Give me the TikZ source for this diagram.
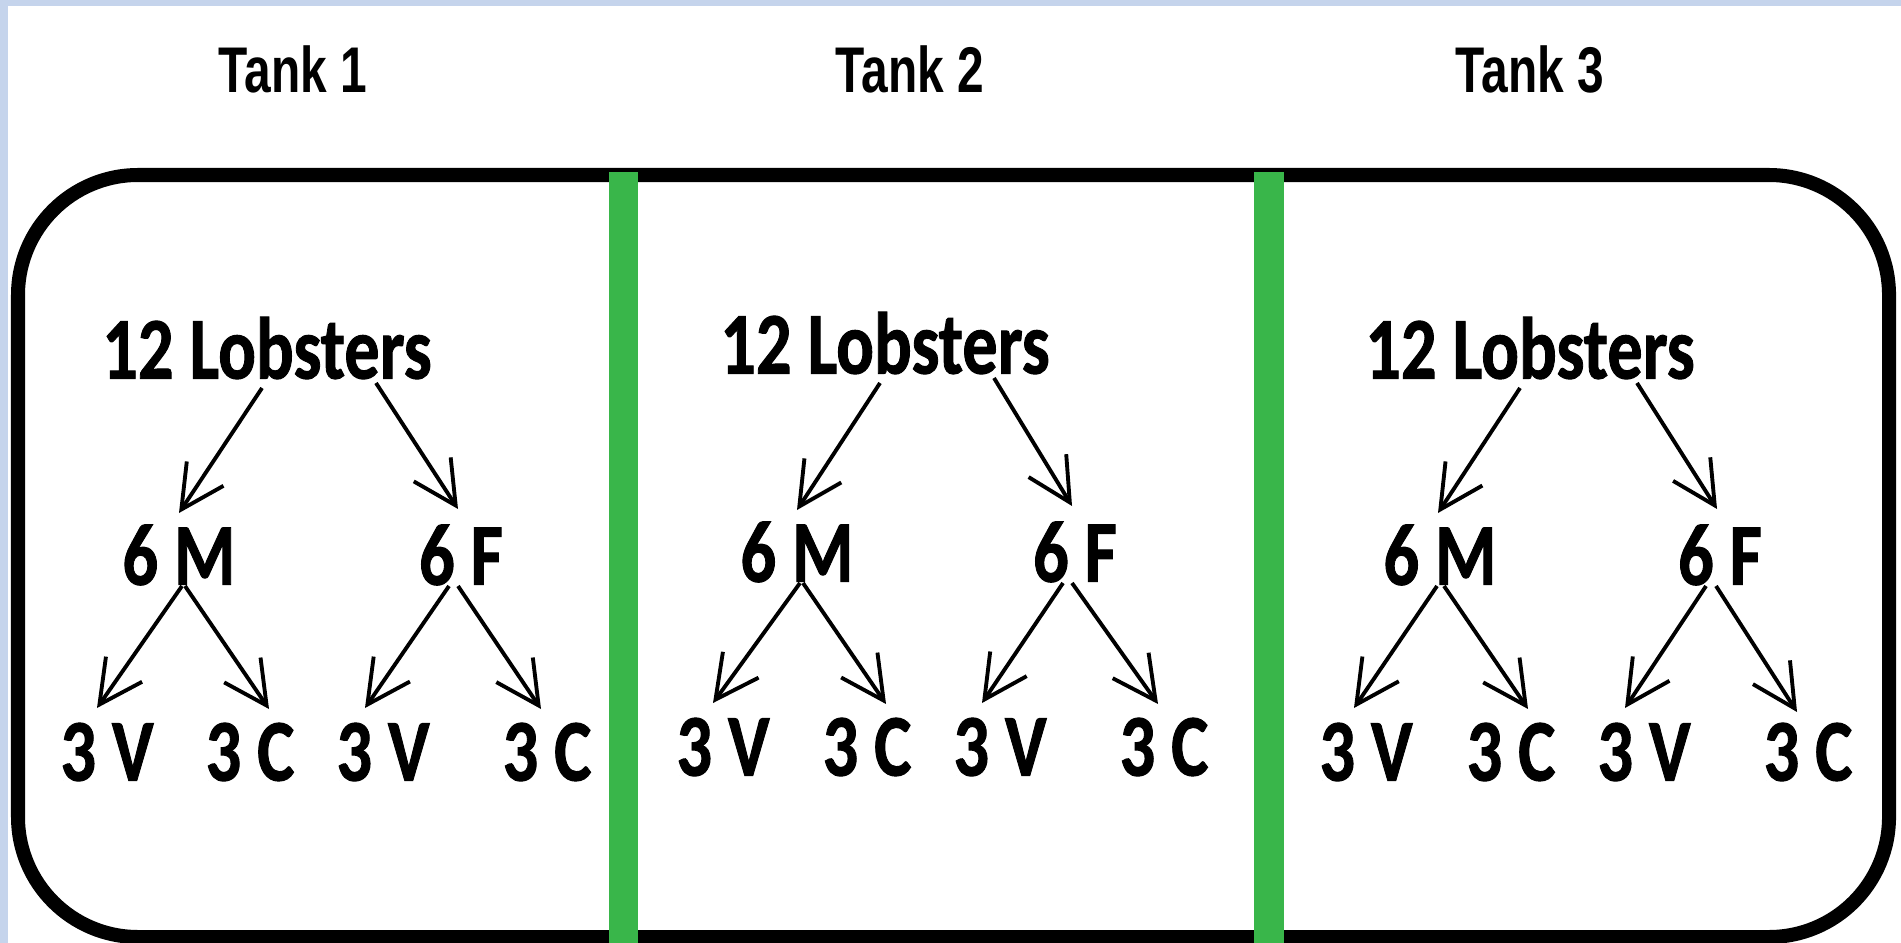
\documentclass[tikz,border=0pt]{standalone}
\usepackage{fontspec}
\setmainfont{Carlito}[BoldFeatures={FakeBold=1.2}]
\newfontfamily\tankfont{Liberation Sans}
\usetikzlibrary{arrows.meta,calc}
\definecolor{stripblue}{RGB}{197,212,236}
\definecolor{wallgreen}{RGB}{57,182,74}
\tikzstyle{arrow} = [line width=1.1pt,-{Straight Barb[length=4.3mm,width=4.4mm]}]
\tikzstyle{count} = [inner sep=0pt, font=\fontsize{20}{24}\selectfont\bfseries, yscale=1.25]
\tikzstyle{tank} = [inner sep=0pt, font=\tankfont\fontsize{16.4}{19}\selectfont\bfseries, xscale=0.83, yscale=1.12]

\begin{document}
\begin{tikzpicture}[x=0.01cm,y=-0.01cm]
\useasboundingbox (0,0) rectangle (1901,943);
\fill [stripblue] (0,0) rectangle (1901,6);
\fill [stripblue] (0,0) rectangle (8,943);
\draw [line width=0.14cm, rounded corners=1.2cm] (18,175) rectangle (1889,937);
\fill [wallgreen] (609,172) rectangle (638,943);
\fill [wallgreen] (1254,172) rectangle (1284,943);
\node (t1) [tank] at (293,69) {Tank 1};
\node (t2) [tank] at (910,69) {Tank 2};
\node (t3) [tank] at (1530,69) {Tank 3};
% tank 1
\node (lob1) [count] at (267,348) {12 Lobsters};
\node (m1) [count] at (179,555) {6 M};
\node (f1) [count] at (461,555) {6 F};
\node (v1a) [count] at (107,752) {3 V};
\node (c1a) [count] at (250,752) {3 C};
\node (v1b) [count] at (383,752) {3 V};
\node (c1b) [count] at (547,752) {3 C};
\draw [arrow] ($(lob1)+(-5,40)$) -- ($(m1)+(0,-42)$);
\draw [arrow] ($(lob1)+(109,35)$) -- ($(f1)+(-3,-46)$);
\draw [arrow] ($(m1)+(3,31)$) -- ($(v1a)+(-10,-44)$);
\draw [arrow] ($(m1)+(6,31)$) -- ($(c1a)+(19,-43)$);
\draw [arrow] ($(f1)+(-12,31)$) -- ($(v1b)+(-18,-44)$);
\draw [arrow] ($(f1)+(-3,31)$) -- ($(c1b)+(-6,-43)$);
% tank 2
\node (lob2) [count] at (885,343) {12 Lobsters};
\node (m2) [count] at (797,552) {6 M};
\node (f2) [count] at (1075,552) {6 F};
\node (v2a) [count] at (723,747) {3 V};
\node (c2a) [count] at (867,747) {3 C};
\node (v2b) [count] at (1000,747) {3 V};
\node (c2b) [count] at (1164,747) {3 C};
\draw [arrow] ($(lob2)+(-5,40)$) -- ($(m2)+(0,-42)$);
\draw [arrow] ($(lob2)+(109,35)$) -- ($(f2)+(-3,-46)$);
\draw [arrow] ($(m2)+(3,31)$) -- ($(v2a)+(-10,-44)$);
\draw [arrow] ($(m2)+(6,31)$) -- ($(c2a)+(19,-43)$);
\draw [arrow] ($(f2)+(-12,31)$) -- ($(v2b)+(-18,-44)$);
\draw [arrow] ($(f2)+(-3,31)$) -- ($(c2b)+(-6,-43)$);
% tank 3
\node (lob3) [count] at (1530,348) {12 Lobsters};
\node (m3) [count] at (1440,555) {6 M};
\node (f3) [count] at (1720,555) {6 F};
\node (v3a) [count] at (1366,752) {3 V};
\node (c3a) [count] at (1511,752) {3 C};
\node (v3b) [count] at (1644,752) {3 V};
\node (c3b) [count] at (1808,752) {3 C};
\draw [arrow] ($(lob3)+(-10,40)$) -- ($(m3)+(-2,-42)$);
\draw [arrow] ($(lob3)+(107,35)$) -- ($(f3)+(-3,-46)$);
\draw [arrow] ($(m3)+(-3,31)$) -- ($(v3a)+(-12,-44)$);
\draw [arrow] ($(m3)+(4,31)$) -- ($(c3a)+(17,-43)$);
\draw [arrow] ($(f3)+(-14,31)$) -- ($(v3b)+(-19,-44)$);
\draw [arrow] ($(f3)+(-4,31)$) -- ($(c3b)+(-11,-40)$);
\end{tikzpicture}
\end{document}
